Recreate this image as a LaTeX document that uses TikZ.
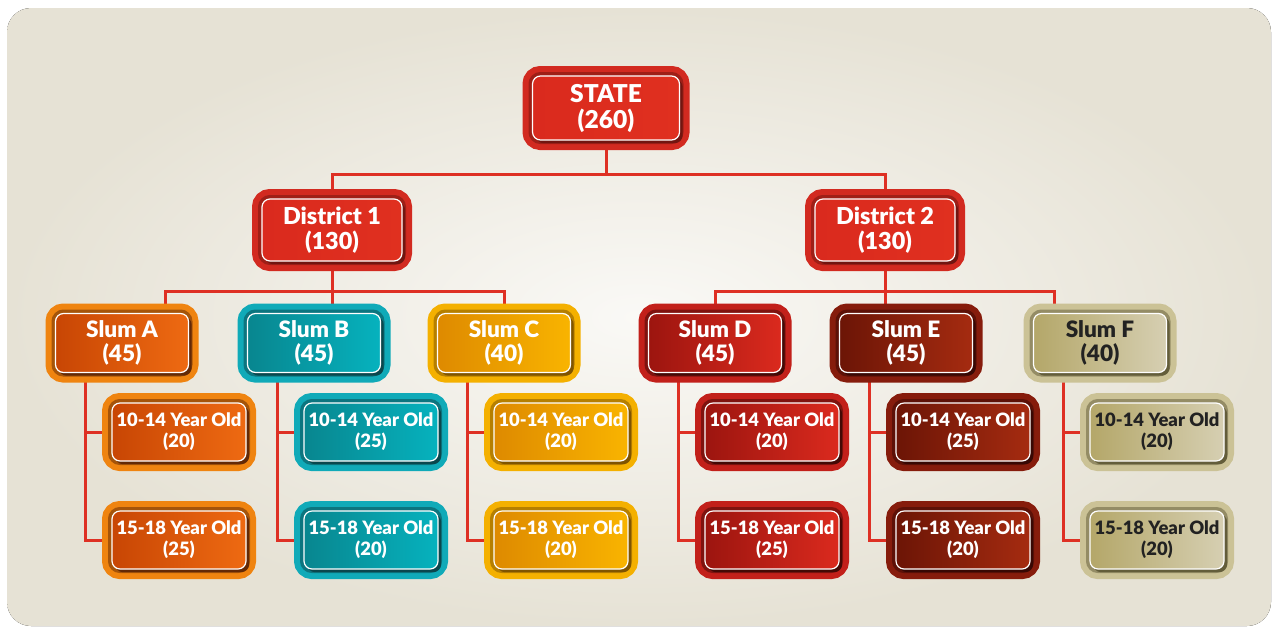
\documentclass[tikz,border=0pt]{standalone}
\usepackage{fontspec}
\setmainfont{Lato}[BoldFont={Lato Black}]
\pgfdeclarelayer{links}
\pgfsetlayers{links,main}

\definecolor{linkred}{HTML}{DE3024}
\definecolor{bgin}{HTML}{FAF9F6}
\definecolor{bgout}{HTML}{E6E2D5}
\definecolor{darktext}{HTML}{222222}
% red (state, districts)
\definecolor{Rrim}{HTML}{D22A20}\definecolor{Rshd}{HTML}{6E1510}
\definecolor{Rl}{HTML}{DA2A1E}\definecolor{Rr}{HTML}{E0301F}
% slum tones
\definecolor{Arim}{HTML}{EF8410}\definecolor{Ashd}{HTML}{5C2506}
\definecolor{Al}{HTML}{C84604}\definecolor{Ar}{HTML}{EE6A12}
\definecolor{Brim}{HTML}{10AAB8}\definecolor{Bshd}{HTML}{0A4248}
\definecolor{Bl}{HTML}{08868F}\definecolor{Br}{HTML}{06B2BE}
\definecolor{Crim}{HTML}{F4B000}\definecolor{Cshd}{HTML}{7A5000}
\definecolor{Cl}{HTML}{DE8A00}\definecolor{Cr}{HTML}{F9B400}
\definecolor{Drim}{HTML}{C2201A}\definecolor{Dshd}{HTML}{3E0805}
\definecolor{Dl}{HTML}{9C150F}\definecolor{Dr}{HTML}{DB2A1E}
\definecolor{Erim}{HTML}{861C0C}\definecolor{Eshd}{HTML}{350804}
\definecolor{El}{HTML}{6C1506}\definecolor{Er}{HTML}{A52B10}
\definecolor{Frim}{HTML}{CBC296}\definecolor{Fshd}{HTML}{5E5836}
\definecolor{Fl}{HTML}{B4A769}\definecolor{Fr}{HTML}{D6CFB2}

\begin{document}
\begin{tikzpicture}[x=0.5pt, y=-0.5pt,
    orgbox/.style n args={4}{rounded corners=4pt,
      preaction={draw=#1, line width=10pt},
      preaction={draw=#2, line width=4pt, opacity=.5},
      preaction={fill=#2, opacity=.9, transform canvas={xshift=1.6pt, yshift=-1.6pt}},
      left color=#3, right color=#4, draw=white, line width=.6pt,
      align=center, inner sep=0pt},
    tone/.style={orgbox={#1rim}{#1shd}{#1l}{#1r}},
    statebox/.style={tone=R, text=white, minimum width=73.5pt, minimum height=32pt,
      font=\fontsize{12.3}{13}\selectfont\bfseries},
    distbox/.style={tone=R, text=white, minimum width=70pt, minimum height=31pt,
      font=\fontsize{11.7}{12.5}\selectfont\bfseries},
    slumbox/.style={minimum width=66.5pt, minimum height=29.5pt,
      font=\fontsize{11.3}{12}\selectfont\bfseries},
    leafbox/.style={minimum width=67pt, minimum height=29pt,
      font=\fontsize{9.2}{10.5}\selectfont\bfseries},
    link/.style={draw=linkred, line width=1.5pt}]

  \useasboundingbox (0,0) rectangle (1272,627);

  \begin{pgfonlayer}{links}
    \fill[inner color=bgin, outer color=bgout, rounded corners=12pt] (7,8) rectangle (1271,626);
  \end{pgfonlayer}

  % top levels
  \node[statebox] (state) at (606,108) {STATE\\(260)};
  \node[distbox] (d1) at (332,230) {District 1\\(130)};
  \node[distbox] (d2) at (885,230) {District 2\\(130)};

  \coordinate (stbus) at (606,174);
  \coordinate (bus1) at (332,291);
  \coordinate (bus2) at (885,291);

  % slums and age groups
  \foreach \nm/\cx/\tot/\ya/\yb/\tc in {A/122/45/20/25/white, B/314/45/25/20/white,
      C/504/40/20/20/white, D/715/45/20/25/white, E/906/45/25/20/white, F/1100/40/20/20/darktext}
  {
    \node[slumbox, tone=\nm, text=\tc] (s\nm) at (\cx,343) {Slum \nm\\(\tot)};
    \node[leafbox, tone=\nm, text=\tc] (s\nm1) at (\cx+57,432) {10-14 Year Old\\(\ya)};
    \node[leafbox, tone=\nm, text=\tc] (s\nm2) at (\cx+57,540) {15-18 Year Old\\(\yb)};
    \begin{pgfonlayer}{links}
      \draw[link] ([xshift=-18.5pt]s\nm.south) |- (s\nm1.west);
      \draw[link] ([xshift=-18.5pt]s\nm.south) |- (s\nm2.west);
    \end{pgfonlayer}
  }

  \begin{pgfonlayer}{links}
    \draw[link] (state) -- (stbus);
    \draw[link] (d1) |- (stbus) -| (d2);
    \draw[link] (d1) -- (d1 |- sB.north);
    \draw[link] ([xshift=21.5pt]sA.north) |- (bus1) -| (sC);
    \draw[link] (d2) -- (d2 |- sE.north);
    \draw[link] (sD) |- (bus2) -| ([xshift=-23pt]sF.north);
  \end{pgfonlayer}
\end{tikzpicture}
\end{document}
